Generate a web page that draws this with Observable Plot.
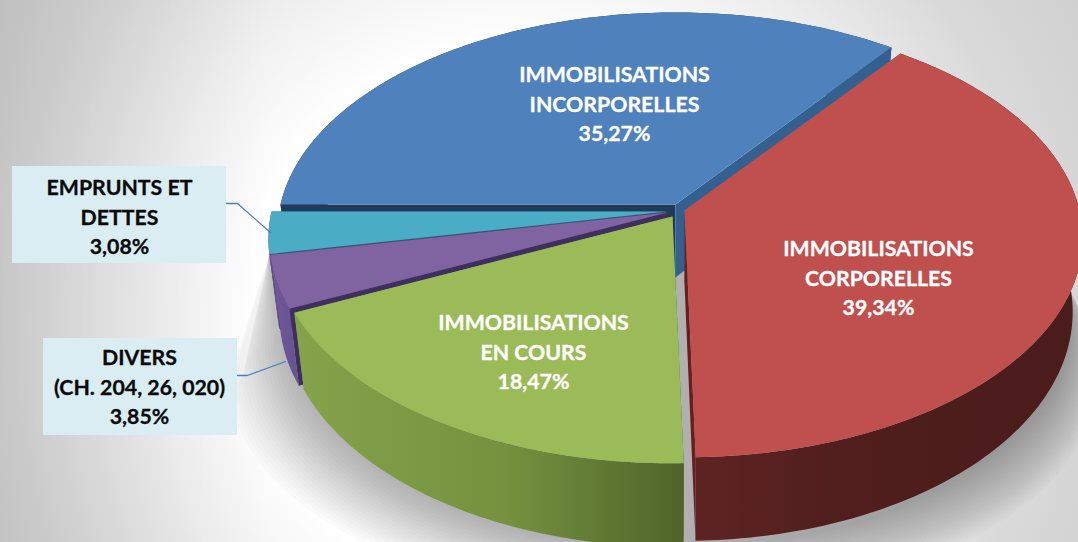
<!DOCTYPE html>
<html><head><meta charset="utf-8">
<script src="https://cdn.jsdelivr.net/npm/d3@7"></script>
<script src="https://cdn.jsdelivr.net/npm/@observablehq/plot@0.6"></script>
<style>html,body{margin:0;padding:0;background:#fff}svg{display:block}</style>
</head><body><div id="chart"></div>
<script>
// Data
const names = ["IMMOBILISATIONS\nINCORPORELLES","EMPRUNTS ET\nDETTES","DIVERS\n(CH. 204, 26, 020)","IMMOBILISATIONS\nEN COURS","IMMOBILISATIONS\nCORPORELLES"];
const valueLabels = ["35,27%","3,08%","3,85%","18,47%","39,34%"];
const values = [35.27,3.08,3.85,18.47,39.34];
const order = [0,4,3,2,1]; // clockwise from 9 o'clock

// Projection of the tilted pie
const W=1078,H=542,R=395,RK=216,P=0.125,DEPTH=73,SHRINK=0.975,START=270;
const total=d3.sum(values);
const ang={};let acc=START;
for(const i of order){const a0=acc;acc+=values[i]/total*360;ang[i]=[a0,acc];}
const apex=[[675,204],[666,211],[667,212],[672,216],[684,210]];
const tops=["#4f81bd","#4bacc6","#8064a2","#9bbb59","#c0504d"];
const outer=["#1f3a5a","#6a5290","url(#gP)","url(#gG)","url(#gR)"];
const cuts=[["#1f3a5a","#34608f"],["#2f5a70","#2f5a70"],["#3f2f5f","#3f2f5f"],["#4f6329","#7f9c45"],["#3a6a9a","#6b1e1c"]];
function pt(i,deg,bottom){
  const t=deg*Math.PI/180,u=Math.sin(t),v=-Math.cos(t),s=1/(1-P*v);
  const dx=R*u*s,dy=RK*v*s,[ax,ay]=apex[i];
  return bottom?{x:ax+dx*SHRINK,y:ay+dy+DEPTH*s}:{x:ax+dx,y:ay+dy};
}
function apexPt(i,bottom){const[ax,ay]=apex[i];return bottom?{x:ax,y:ay+DEPTH}:{x:ax,y:ay};}
function arc(i,a0,a1,bottom){const pts=[];const n=Math.ceil(Math.abs(a1-a0));for(let k=0;k<=n;k++)pts.push(pt(i,a0+(a1-a0)*k/n,bottom));return pts;}
const poly=(pts,fill,extra={})=>Plot.line(pts,{x:"x",y:"y",fill,stroke:"none",...extra});

const marks=[];
// page background
marks.push(Plot.rect([0],{x1:()=>0,x2:()=>W,y1:()=>0,y2:()=>H,fill:"url(#bg)"}));
marks.push(Plot.rect([0],{x1:()=>0,x2:()=>270,y1:()=>0,y2:()=>H,fill:"url(#bgL)"}));
// cast shadow: a stack of widening footprints of the pie, cut on the left along a straight edge
const edgeX=y=>y<372?268-(y-256)*25/116:0;
for(let e=0;e<=60;e+=3){
  const pts=[{x:700,y:256},{x:268,y:256}];
  for(let deg=262;deg>=50;deg-=3){
    const t=deg*Math.PI/180,u=Math.sin(t),v=-Math.cos(t),s=1/(1-P*v);
    const y=218+RK*v*s+DEPTH*s+e*0.95;
    pts.push({x:Math.max(edgeX(y),678-e*0.25+(R-8+e*0.75)*u*s),y});
  }
  marks.push(poly(pts,"#000",{fillOpacity:0.0155}));
}
for(const i of [0,1,2,3,4]){
  const[a0,a1]=ang[i];
  const wall=poly([...arc(i,a0,a1),...arc(i,a1,a0,true)],outer[i]);
  if(i===0) marks.push(wall);
  marks.push(poly([apexPt(i),pt(i,a0),pt(i,a0,true),apexPt(i,true)],cuts[i][0]));
  marks.push(poly([apexPt(i),pt(i,a1),pt(i,a1,true),apexPt(i,true)],cuts[i][1]));
  if(i!==0) marks.push(wall);
  marks.push(poly([apexPt(i),...arc(i,a0,a1)],tops[i]));
}
// callouts
const boxes=[[12,226,166,263],[43,237,338,435]];
for(const b of boxes) marks.push(Plot.rect([0],{x1:()=>b[0],x2:()=>b[1],y1:()=>b[2],y2:()=>b[3],fill:"#daedf3"}));
marks.push(Plot.line([{x:226,y:203},{x:237,y:203},{x:270,y:232}],{x:"x",y:"y",stroke:"#4a7ebb",strokeWidth:1.3}));
marks.push(Plot.line([{x:237,y:375},{x:247,y:375},{x:285,y:361}],{x:"x",y:"y",stroke:"#4a7ebb",strokeWidth:1.3}));
// labels
const labelPos=[[614,74,"#fff"],[119,187,"#0a0a0a"],[139,357,"#0a0a0a"],[533,322,"#fff"],[878,248,"#fff"]];
const labelData=names.map((n,i)=>({text:n+"\n"+valueLabels[i],x:labelPos[i][0],y:labelPos[i][1]-13,c:labelPos[i][2]}));
marks.push(Plot.text(labelData,{x:"x",y:"y",text:"text",fill:"c",stroke:"c",strokeWidth:0.3,lineAnchor:"top",textAnchor:"middle",lineHeight:1.375,fontSize:21.3,fontWeight:700,fontFamily:"Lato"}));

const svg=Plot.plot({width:W,height:H,margin:0,
  x:{domain:[0,W],range:[0,W],axis:null},y:{domain:[0,H],range:[0,H],axis:null},
  style:{background:"transparent"},marks});
const defs=d3.select(svg).insert("defs",":first-child");
function lin(id,x1,x2,stops){const g=defs.append("linearGradient").attr("id",id).attr("gradientUnits","userSpaceOnUse").attr("x1",x1).attr("x2",x2).attr("y1",0).attr("y2",0);
  stops.forEach(([o,c,a])=>{const st=g.append("stop").attr("offset",o).attr("stop-color",c);if(a!==undefined)st.attr("stop-opacity",a);});}
lin("gG",295,685,[[0,"#84a34a"],[.55,"#75913f"],[1,"#4f6329"]]);
lin("gR",695,1078,[[0,"#5e2423"],[.4,"#4f1e1d"],[1,"#4a1c1b"]]);
lin("gP",272,305,[[0,"#71589a"],[1,"#64508c"]]);
lin("bgL",0,270,[[0,"#000",.09],[1,"#000",0]]);
const rg=defs.append("radialGradient").attr("id","bg").attr("gradientUnits","userSpaceOnUse").attr("cx",520).attr("cy",320).attr("r",640);
[[0,"#ffffff"],[.43,"#ffffff"],[.6,"#f0f0f0"],[.82,"#dadada"],[1,"#d0d0d0"]].forEach(([o,c])=>rg.append("stop").attr("offset",o).attr("stop-color",c));
document.getElementById("chart").append(svg);
</script></body></html>
